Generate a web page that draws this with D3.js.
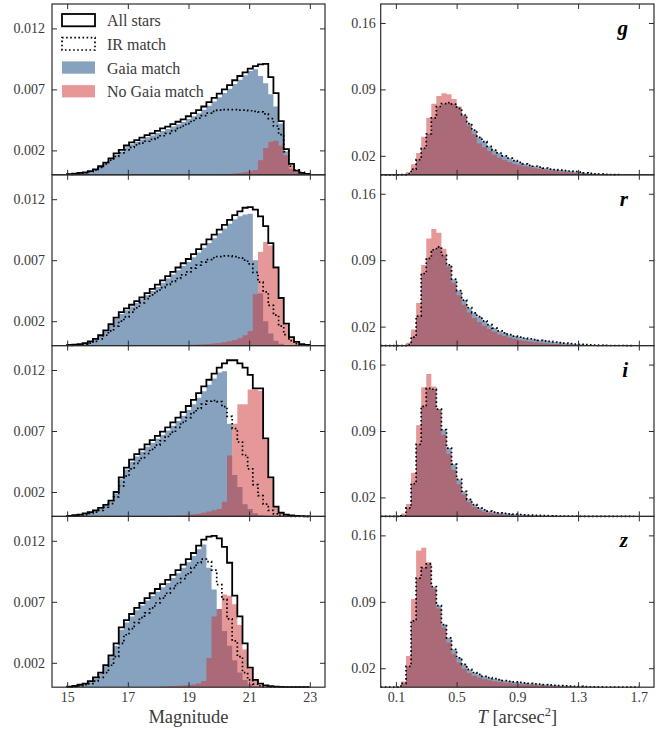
<!DOCTYPE html>
<html><head><meta charset="utf-8">
<script src="https://cdn.jsdelivr.net/npm/d3@7"></script>
<style>
html,body{margin:0;padding:0;background:#fff;}
svg{display:block;}
svg text{font-family:'Liberation Serif','DejaVu Serif',serif !important;}
</style></head><body>
<svg id="chart" width="667" height="730"></svg>
<script>
// ---------------- data ----------------
const bands = ["g", "r", "i", "z"];
const magTicks = [15, 17, 19, 21, 23];
const magYTicks = [0.002, 0.007, 0.012];
const tTicks = [0.1, 0.5, 0.9, 1.3, 1.7];
const tYTicks = [0.02, 0.09, 0.16];
const legendLabels = ["All stars", "IR match", "Gaia match", "No Gaia match"];
const magBinStart = 15.0, magBinWidth = 0.17;   // magnitude histogram bins
const tBinStart = 0.0, tBinWidth = 1 / 30;        // size T histogram bins
const magUnit = 1e-3;  // magnitude-histogram values below are in units of 1e-3
const tUnit = 1e-2;    // T-histogram values below are in units of 1e-2

const magAll_g = [0.05,0.1,0.15,0.2,0.3,0.45,0.7,1.0,1.35,1.75, 2.05,2.4,2.65,2.85,3.05,3.25,3.4,3.6,3.8,3.95, 4.15,4.35,4.55,4.8,5.05,5.3,5.6,5.95,6.3,6.65, 7.0,7.35,7.75,8.1,8.4,8.7,8.9,9.05,9.1,8.0, 6.7,4.4,2.1,0.9,0.35,0.15,0.08];
const magIR_g = [0.03,0.05,0.08,0.15,0.25,0.4,0.6,0.9,1.2,1.5, 1.8,2.05,2.25,2.45,2.6,2.75,2.9,3.05,3.2,3.4, 3.6,3.8,4.0,4.2,4.45,4.65,4.85,5.05,5.2,5.3, 5.35,5.35,5.35,5.3,5.3,5.25,5.2,5.15,5.0,4.6, 4.0,3.3,1.9,0.7,0.4,0.2,0.08];
const magGaia_g = [0.04,0.08,0.12,0.17,0.26,0.4,0.63,0.92,1.25,1.63, 1.92,2.25,2.5,2.7,2.9,3.08,3.23,3.42,3.6,3.75, 3.95,4.14,4.33,4.57,4.8,5.05,5.33,5.67,6.0,6.35, 6.7,7.05,7.45,7.8,8.15,8.5,8.65,8.1,7.5,6.6, 5.6,4.2,1.9,0.5,0.2,0.08,0.03];
const magNoGaia_g = [0,0,0,0,0,0,0,0,0,0, 0,0,0,0,0,0,0,0,0,0, 0,0,0,0,0,0,0,0,0,0.03, 0.05,0.07,0.1,0.15,0.2,0.3,0.4,1.2,2.2,2.7, 2.8,2.4,1.6,0.8,0.35,0.15,0.05];

const magAll_r = [0.05,0.08,0.12,0.2,0.35,0.55,0.85,1.25,1.75,2.3, 2.75,3.05,3.35,3.65,3.95,4.3,4.65,5.0,5.35,5.7, 6.05,6.4,6.75,7.1,7.5,7.9,8.3,8.7,9.1,9.5, 9.9,10.3,10.7,11.0,11.3,11.35,11.15,10.6,9.8,8.4, 6.4,3.9,1.8,0.7,0.3,0.12,0.05];
const magIR_r = [0.02,0.04,0.07,0.12,0.2,0.35,0.55,0.85,1.2,1.6, 2.0,2.35,2.75,3.1,3.5,3.85,4.15,4.45,4.75,5.0, 5.25,5.5,5.8,6.05,6.35,6.6,6.85,7.05,7.2,7.3, 7.35,7.35,7.3,7.2,7.0,6.7,6.0,5.2,4.4,3.3, 2.5,1.6,0.9,0.4,0.15,0.06,0.02];
const magGaia_r = [0.04,0.07,0.1,0.17,0.3,0.5,0.78,1.17,1.65,2.18, 2.6,2.9,3.2,3.5,3.8,4.12,4.47,4.8,5.15,5.5, 5.83,6.18,6.52,6.86,7.25,7.63,8.02,8.42,8.8,9.2, 9.6,9.98,10.35,10.6,10.75,10.8,7.0,4.3,2.0,1.0, 0.4,0.15,0.05,0,0,0,0];
const magNoGaia_r = [0,0,0,0,0,0,0,0,0,0, 0,0,0,0,0,0,0,0,0,0, 0,0,0,0.05,0.07,0.09,0.11,0.14,0.18,0.22, 0.28,0.35,0.45,0.6,0.85,1.2,4.2,7.7,8.5,8.2, 6.3,3.8,1.7,0.6,0.22,0.08,0.03];

const magAll_i = [0.05,0.1,0.15,0.25,0.35,0.5,0.7,0.95,1.3,2.0, 3.2,4.0,4.65,5.1,5.5,5.9,6.25,6.6,6.95,7.3, 7.7,8.1,8.55,9.05,9.55,10.1,10.65,11.2,11.7,12.2, 12.55,12.8,12.8,12.55,12.2,11.6,10.5,10.5,6.4,3.2, 0.8,0.3,0.15,0.08,0.04,0.02,0.01];
const magIR_i = [0.03,0.06,0.1,0.15,0.25,0.35,0.5,0.75,1.05,1.6, 2.5,3.3,3.9,4.35,4.75,5.15,5.5,5.85,6.2,6.55, 6.9,7.3,7.7,8.1,8.5,8.85,9.2,9.45,9.5,9.4, 9.0,8.2,7.2,6.1,5.0,3.9,2.6,1.7,1.0,0.5, 0.2,0.08,0.03,0,0,0,0];
const magGaia_i = [0.04,0.08,0.12,0.2,0.3,0.44,0.63,0.87,1.2,1.88, 3.05,3.85,4.48,4.92,5.3,5.7,6.03,6.37,6.7,7.05, 7.43,7.82,8.25,8.73,9.2,9.73,10.25,10.8,11.3,11.8, 11.9,7.6,3.4,2.4,1.0,0.6,0.25,0.1,0.05,0, 0,0,0,0,0,0,0];
const magNoGaia_i = [0,0,0,0,0,0,0,0,0,0, 0,0,0,0,0,0,0,0,0,0, 0.05,0.07,0.1,0.13,0.17,0.22,0.3,0.4,0.5,0.6, 1.2,5.0,7.6,9.2,9.2,10.4,10.4,10.3,6.3,3.1, 0.8,0.25,0.1,0.04,0,0,0];

const magAll_z = [0.05,0.1,0.2,0.3,0.5,0.8,1.2,1.8,2.6,3.6, 4.9,5.5,6.0,6.5,6.9,7.3,7.7,8.05,8.45,8.8, 9.2,9.6,10.05,10.5,11.0,11.6,12.1,12.35,12.4,12.2, 11.5,10.2,7.5,5.8,3.6,1.6,0.6,0.3,0.15,0.08, 0.04,0.02,0.01,0.01,0,0,0];
const magIR_z = [0.03,0.05,0.1,0.2,0.3,0.5,0.8,1.2,1.8,2.5, 3.6,4.3,4.8,5.3,5.7,6.1,6.5,6.9,7.3,7.7, 8.1,8.5,8.9,9.3,9.8,10.2,10.5,10.3,9.6,8.4, 7.2,5.6,3.8,2.5,1.2,0.6,0.25,0.1,0.04,0, 0,0,0,0,0,0,0];
const magGaia_z = [0.04,0.08,0.16,0.25,0.43,0.72,1.1,1.68,2.45,3.4, 4.7,5.3,5.8,6.3,6.7,7.1,7.48,7.82,8.2,8.55, 8.95,9.35,9.8,10.25,10.75,11.3,11.7,9.8,8.0,6.4, 4.6,3.4,2.2,1.2,0.6,0.25,0.1,0.04,0,0, 0,0,0,0,0,0,0];
const magNoGaia_z = [0,0,0,0,0,0,0,0,0,0, 0,0,0,0,0,0,0,0,0.05,0.07, 0.09,0.11,0.14,0.17,0.22,0.3,0.5,2.4,5.8,6.4, 7.6,7.5,6.8,5.1,3.1,1.5,0.6,0.2,0.08,0.03, 0,0,0,0,0,0,0];

const tIR_g = [0,0,0,0,0.02,0.1,0.6,1.6,2.8,4.3, 6.0,7.2,7.5,7.6,7.45,7.0,6.3,5.4,4.7,3.95, 3.5,3.0,2.6,2.3,2.0,1.75,1.5,1.3,1.15,1.0, 0.9,0.8,0.7,0.6,0.55,0.5,0.45,0.4,0.35,0.28, 0.2,0.15,0.1,0.07,0.05,0.03,0.02];
const tGaia_g = [0,0,0,0,0.02,0.1,0.6,1.6,2.8,4.3, 6.0,7.2,7.5,7.6,7.45,7.0,6.3,5.4,4.7,3.95, 3.5,3.0,2.6,2.3,2.0,1.75,1.5,1.3,1.15,1.0, 0.9,0.8,0.7,0.6,0.55,0.5,0.45,0.4,0.35,0.28, 0.2,0.15,0.1,0.07,0.05,0.03,0.02];
const tNoGaia_g = [0,0,0,0,0.02,0.3,1.1,2.3,4.0,6.0, 7.5,8.3,8.6,8.5,8.0,7.2,6.2,5.2,4.3,3.3, 2.9,2.5,2.1,1.8,1.55,1.35,1.15,1.0,0.9,0.8, 0.7,0.6,0.55,0.45,0.4,0.35,0.3,0.25,0.2,0.15, 0.1,0.08,0.05,0.03,0.02,0.01,0];

const tIR_r = [0,0,0,0,0,0.1,0.9,3.1,7.6,9.2, 10.1,10.4,9.5,8.5,7.0,5.8,4.8,4.0,3.45,3.05, 2.6,2.2,1.85,1.55,1.35,1.15,1.0,0.9,0.8,0.72, 0.64,0.56,0.5,0.44,0.38,0.32,0.26,0.21,0.17,0.13, 0.1,0.07,0.05,0.03,0.02,0.01,0.01,0.01,0,0];
const tGaia_r = [0,0,0,0,0,0.1,0.9,3.1,7.6,9.2, 10.1,10.4,9.5,8.5,7.0,5.8,4.8,4.0,3.45,3.05, 2.6,2.2,1.85,1.55,1.35,1.15,1.0,0.9,0.8,0.72, 0.64,0.56,0.5,0.44,0.38,0.32,0.26,0.21,0.17,0.13, 0.1,0.07,0.05,0.03,0.02,0.01,0.01,0.01,0,0];
const tNoGaia_r = [0,0,0,0,0,0.3,1.7,4.5,8.5,11.3, 12.3,11.9,10.2,8.3,6.6,5.3,4.3,3.5,2.9,2.5, 2.1,1.75,1.45,1.2,1.0,0.85,0.72,0.6,0.5,0.42, 0.35,0.3,0.25,0.2,0.16,0.13,0.1,0.08,0.06,0.04, 0.03,0.02,0.01,0.01,0,0,0,0,0,0];

const tIR_i = [0,0,0,0,0.05,0.9,3.45,7.6,11.6,13.5, 13.4,11.3,9.15,7.2,5.5,3.9,2.65,1.8,1.25,0.9, 0.7,0.55,0.45,0.38,0.32,0.27,0.23,0.2,0.17,0.14, 0.12,0.1,0.08,0.06,0.05,0.04,0.03,0.02,0.02,0.01, 0.01,0.01,0.01,0,0,0,0,0,0,0];
const tGaia_i = [0,0,0,0,0.05,0.9,3.45,7.6,11.6,13.5, 13.4,11.3,9.15,7.2,5.5,3.9,2.65,1.8,1.25,0.9, 0.7,0.55,0.45,0.38,0.32,0.27,0.23,0.2,0.17,0.14, 0.12,0.1,0.08,0.06,0.05,0.04,0.03,0.02,0.02,0.01, 0.01,0.01,0.01,0,0,0,0,0,0,0];
const tNoGaia_i = [0,0,0,0,0.3,1.3,4.6,9.6,13.6,15.0, 13.7,11.3,8.6,6.6,4.9,3.4,2.3,1.5,1.0,0.7, 0.5,0.38,0.3,0.22,0.17,0.13,0.1,0.08,0.06,0.05, 0.04,0.03,0.02,0.01,0.01,0,0,0,0,0, 0,0,0,0,0,0,0,0,0,0];

const tIR_z = [0,0,0,0,0.4,2.2,7.0,11.5,12.6,13.0, 10.6,8.6,6.6,5.2,4.0,3.1,2.4,1.87,1.55,1.35, 1.15,1.0,0.9,0.8,0.7,0.62,0.56,0.5,0.45,0.4, 0.36,0.32,0.28,0.24,0.2,0.17,0.14,0.12,0.1,0.08, 0.06,0.05,0.04,0.03,0.02,0.02,0.01,0.01,0.01,0,0];
const tGaia_z = [0,0,0,0,0.4,2.2,7.0,11.5,12.6,13.0, 10.6,8.6,6.6,5.2,4.0,3.1,2.4,1.87,1.55,1.35, 1.15,1.0,0.9,0.8,0.7,0.62,0.56,0.5,0.45,0.4, 0.36,0.32,0.28,0.24,0.2,0.17,0.14,0.12,0.1,0.08, 0.06,0.05,0.04,0.03,0.02,0.02,0.01,0.01,0.01,0,0];
const tNoGaia_z = [0,0,0,0,0.6,3.3,9.3,14.4,14.7,13.2, 10.4,8.3,6.3,4.7,3.5,2.6,1.95,1.5,1.2,1.0, 0.85,0.72,0.62,0.54,0.47,0.41,0.36,0.32,0.28,0.25, 0.22,0.19,0.16,0.14,0.12,0.1,0.08,0.07,0.06,0.05, 0.04,0.03,0.02,0.02,0.01,0.01,0,0,0,0,0];

// ---------------- drawing ----------------
const magSets = {
  g: {all: magAll_g, ir: magIR_g, gaia: magGaia_g, nogaia: magNoGaia_g},
  r: {all: magAll_r, ir: magIR_r, gaia: magGaia_r, nogaia: magNoGaia_r},
  i: {all: magAll_i, ir: magIR_i, gaia: magGaia_i, nogaia: magNoGaia_i},
  z: {all: magAll_z, ir: magIR_z, gaia: magGaia_z, nogaia: magNoGaia_z}
};
const tSets = {
  g: {ir: tIR_g, gaia: tGaia_g, nogaia: tNoGaia_g},
  r: {ir: tIR_r, gaia: tGaia_r, nogaia: tNoGaia_r},
  i: {ir: tIR_i, gaia: tGaia_i, nogaia: tNoGaia_i},
  z: {ir: tIR_z, gaia: tGaia_z, nogaia: tNoGaia_z}
};

const FONT = "'Liberation Serif','DejaVu Serif',serif";
const INK = "#2b2b2b";
const TXT = "#3a3a3a";
const BLUE = "#87a2be";
const RED = "#cd3232", RED_OP = 0.5;
const LX = [52, 325], RX = [380.7, 654];
const TOP = 4, PH = 170.8;
const TICK = 5;
const DOT = "1.6,2.5";

const svg = d3.select("#chart");
const xMag = d3.scaleLinear().domain([14.5, 23.5]).range(LX);
const xT = d3.scaleLinear().domain([0, 1.8]).range(RX);
const line = d3.line();

function stepPts(vals, start, width, unit, xs, ys) {
  const pts = [[xs(start), ys(0)]];
  vals.forEach((v, k) => {
    const a = start + k * width, b = a + width;
    pts.push([xs(a), ys(v * unit)], [xs(b), ys(v * unit)]);
  });
  pts.push([xs(start + vals.length * width), ys(0)]);
  return pts;
}
function fillHist(g, vals, start, width, unit, xs, ys, color, op) {
  g.append("path").attr("d", line(stepPts(vals, start, width, unit, xs, ys)) + "Z")
    .attr("fill", color).attr("fill-opacity", op).attr("stroke", "none");
}
function lineHist(g, vals, start, width, unit, xs, ys, dash) {
  g.append("path").attr("d", line(stepPts(vals, start, width, unit, xs, ys)))
    .attr("fill", "none").attr("stroke", "#000")
    .attr("stroke-width", dash ? 1.7 : 1.8)
    .attr("stroke-dasharray", dash ? DOT : null)
    .attr("stroke-linejoin", "miter");
}
function styleAxis(sel) {
  sel.select(".domain").remove();
  sel.attr("font-family", FONT).attr("font-size", 14);
  sel.selectAll("line").attr("stroke", INK).attr("stroke-width", 1);
  sel.selectAll("text").attr("fill", TXT).style("font-family", FONT);
}
function drawAxes(g, xs, ys, xt, yt, xfmt, yfmt, top, bot, x0, x1, showX, yPad) {
  g.append("g").attr("transform", `translate(0,${bot})`)
    .call(d3.axisBottom(xs).tickValues(xt).tickSize(-TICK).tickPadding(4.6)
      .tickFormat(showX ? xfmt : () => "")).call(styleAxis);
  g.append("g").attr("transform", `translate(0,${top})`)
    .call(d3.axisTop(xs).tickValues(xt).tickSize(-TICK).tickFormat(() => "")).call(styleAxis);
  g.append("g").attr("transform", `translate(${x0},0)`)
    .call(d3.axisLeft(ys).tickValues(yt).tickSize(-TICK).tickPadding(yPad).tickFormat(yfmt)).call(styleAxis);
  g.append("g").attr("transform", `translate(${x1},0)`)
    .call(d3.axisRight(ys).tickValues(yt).tickSize(-TICK).tickFormat(() => "")).call(styleAxis);
  g.append("rect").attr("x", x0).attr("y", top).attr("width", x1 - x0).attr("height", bot - top)
    .attr("fill", "none").attr("stroke", INK).attr("stroke-width", 1.2);
}

bands.forEach((b, r) => {
  const top = TOP + r * PH, bot = top + PH;
  const yM = d3.scaleLinear().domain([0, 0.014]).range([bot, top]);
  const yT = d3.scaleLinear().domain([0, 0.18]).range([bot, top]);

  // left: magnitude
  const gl = svg.append("g");
  const m = magSets[b];
  fillHist(gl, m.gaia, magBinStart, magBinWidth, magUnit, xMag, yM, BLUE, 1);
  fillHist(gl, m.nogaia, magBinStart, magBinWidth, magUnit, xMag, yM, RED, RED_OP);
  lineHist(gl, m.all, magBinStart, magBinWidth, magUnit, xMag, yM, false);
  lineHist(gl, m.ir, magBinStart, magBinWidth, magUnit, xMag, yM, true);
  drawAxes(gl, xMag, yM, magTicks, magYTicks, d3.format("d"), d3.format(".3f"),
    top, bot, LX[0], LX[1], r === 3, 7);

  // right: size T
  const gr = svg.append("g");
  const t = tSets[b];
  fillHist(gr, t.gaia, tBinStart, tBinWidth, tUnit, xT, yT, BLUE, 1);
  fillHist(gr, t.nogaia, tBinStart, tBinWidth, tUnit, xT, yT, RED, RED_OP);
  lineHist(gr, t.ir, tBinStart, tBinWidth, tUnit, xT, yT, true);
  drawAxes(gr, xT, yT, tTicks, tYTicks, d3.format(".1f"), d3.format(".2f"),
    top, bot, RX[0], RX[1], r === 3, 5);

  gr.append("text").attr("x", 628).attr("y", top + 31)
    .attr("text-anchor", "end").style("font-family", FONT)
    .attr("font-size", 21).attr("font-weight", "bold").attr("font-style", "italic")
    .attr("fill", "#000").text(b);
});

// legend (top-left panel)
const lg = svg.append("g");
legendLabels.forEach((lab, k) => {
  const y0 = 14 + k * 23.7;
  const rect = lg.append("rect").attr("x", 62).attr("y", y0).attr("width", 33).attr("height", 12.3);
  if (k === 0) rect.attr("fill", "#fff").attr("stroke", "#000").attr("stroke-width", 1.8);
  if (k === 1) rect.attr("fill", "#fff").attr("stroke", "#000").attr("stroke-width", 1.7).attr("stroke-dasharray", DOT);
  if (k === 2) rect.attr("fill", BLUE);
  if (k === 3) rect.attr("fill", RED).attr("fill-opacity", RED_OP);
  lg.append("text").attr("x", 107).attr("y", y0 + 12.2)
    .style("font-family", FONT).attr("font-size", 16).attr("fill", TXT).text(lab);
});

// axis titles
svg.append("text").attr("x", (LX[0] + LX[1]) / 2).attr("y", 722.5)
  .attr("text-anchor", "middle").style("font-family", FONT).attr("font-size", 18.5)
  .attr("fill", TXT).text("Magnitude");
const tt = svg.append("text").attr("x", (RX[0] + RX[1]) / 2).attr("y", 722.5)
  .attr("text-anchor", "middle").style("font-family", FONT).attr("font-size", 18.5).attr("fill", TXT);
tt.append("tspan").attr("font-style", "italic").text("T");
tt.append("tspan").text(" [arcsec");
tt.append("tspan").attr("font-size", 12.5).attr("dy", -7).text("2");
tt.append("tspan").attr("dy", 7).text("]");
</script>
</body></html>
